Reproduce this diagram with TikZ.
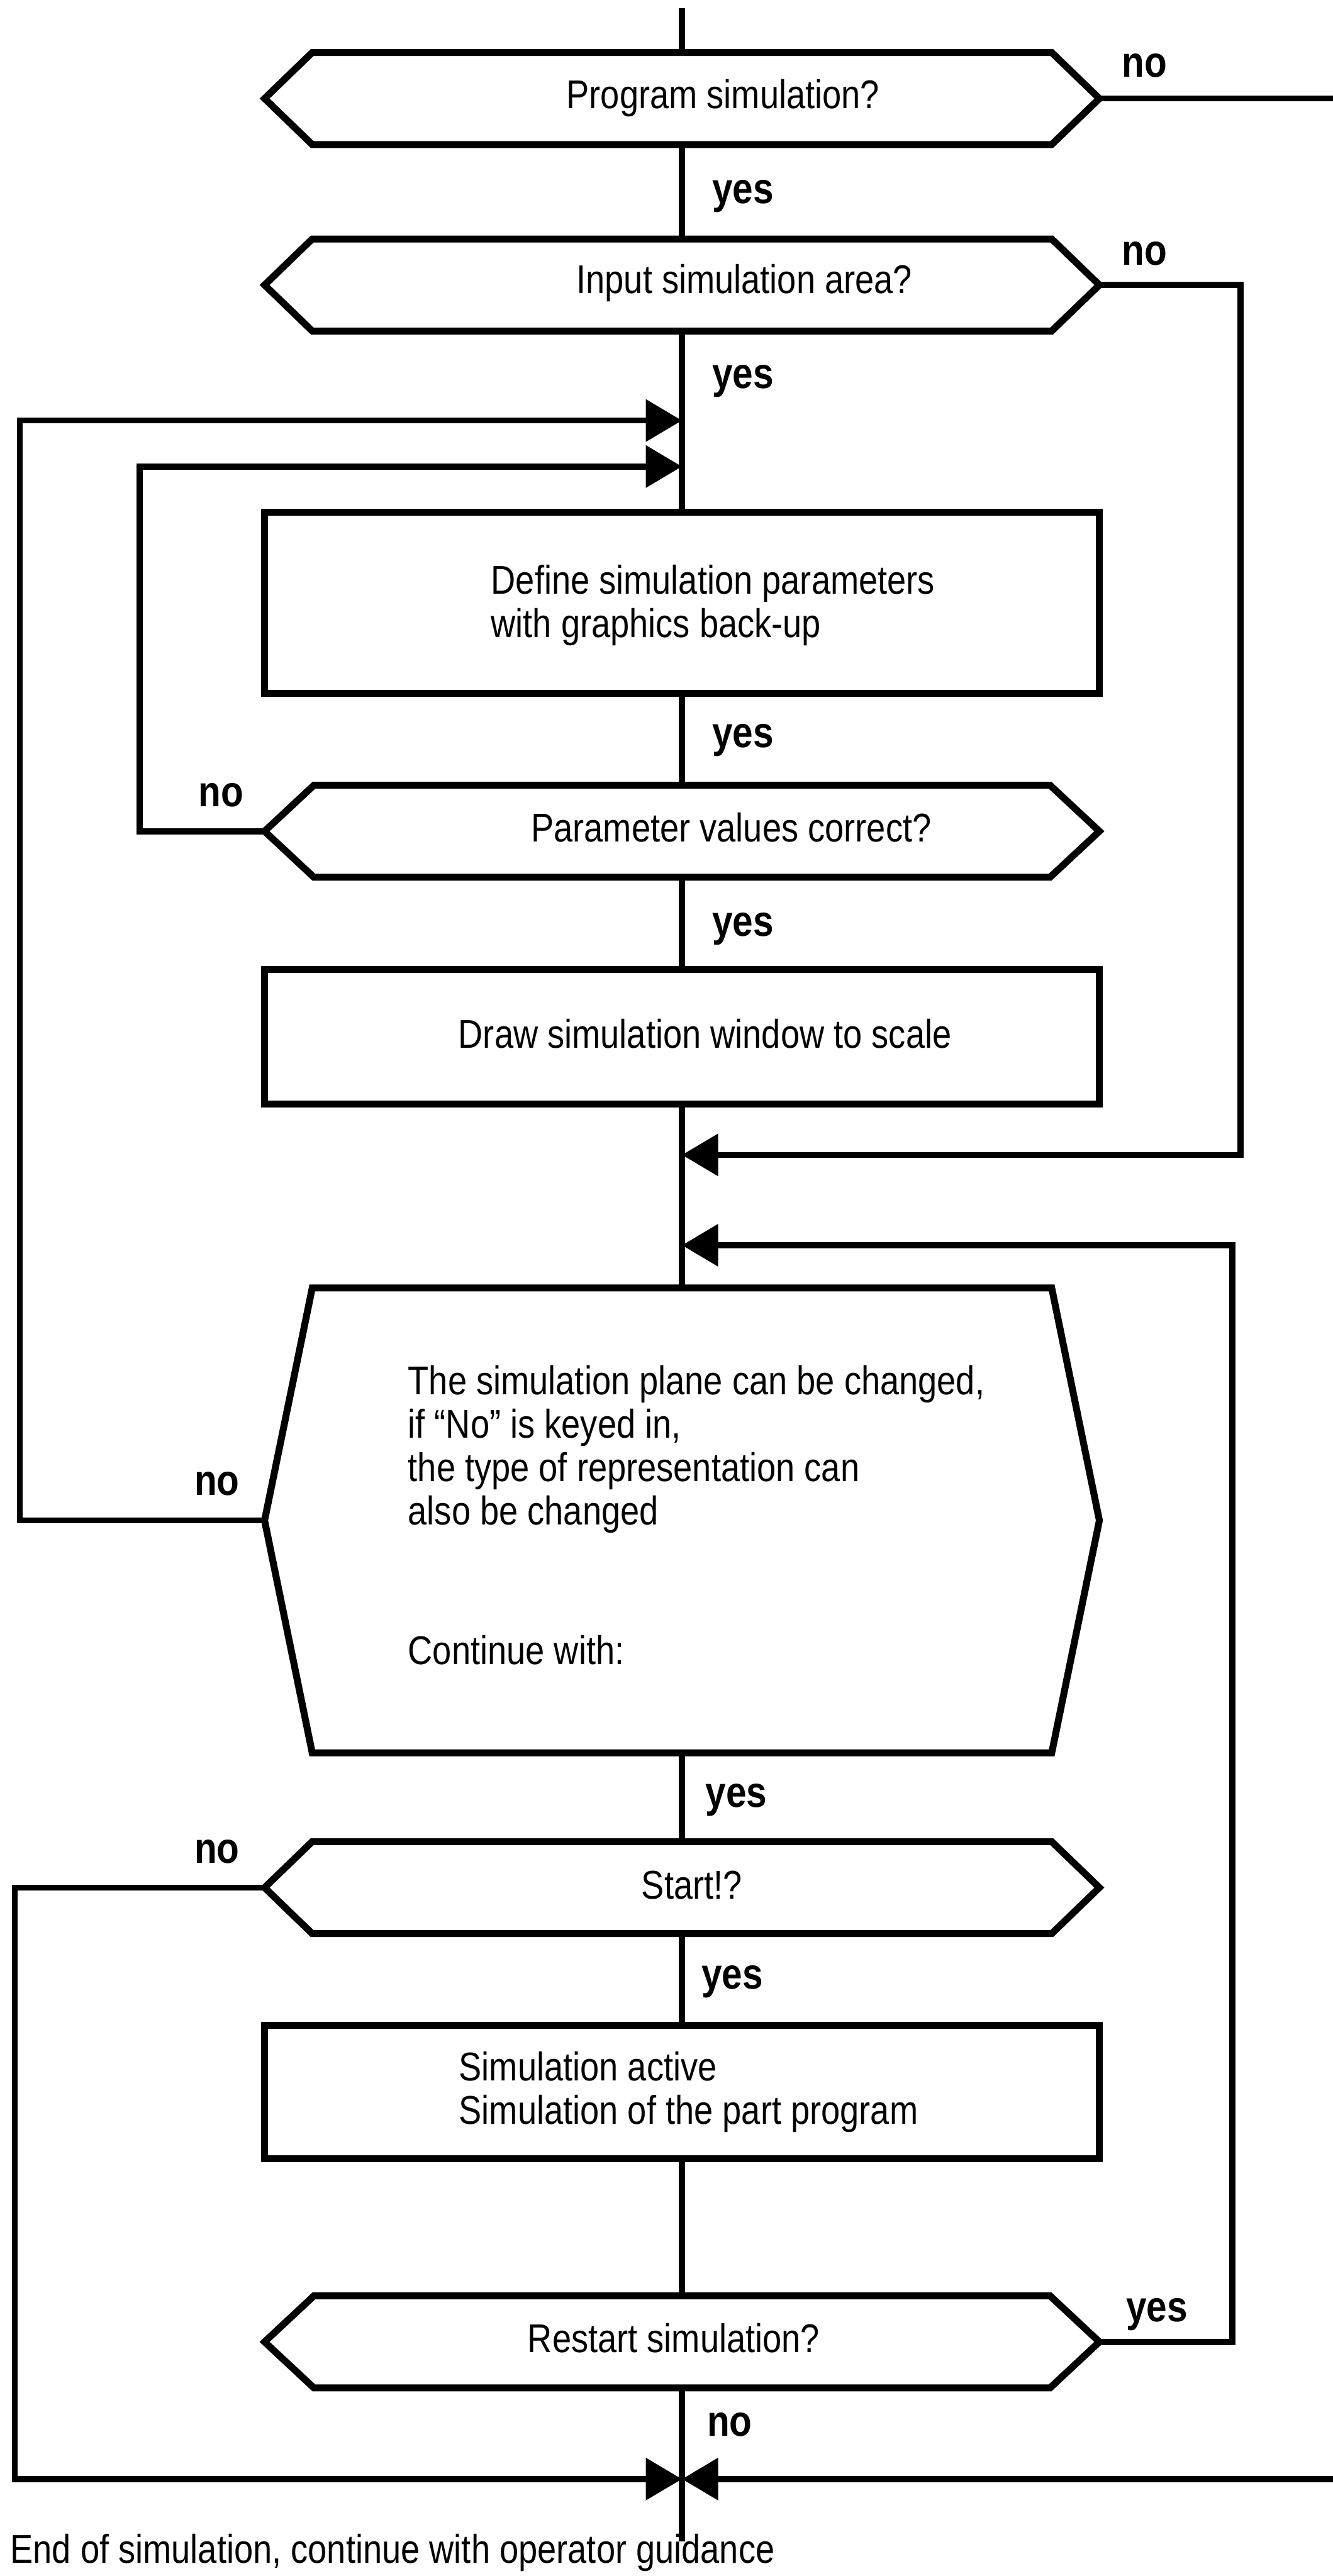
\documentclass[tikz,border=0pt]{standalone}
\usepackage{fontspec}
\setmainfont{Liberation Sans}[FakeStretch=0.85]
\usetikzlibrary{arrows.meta}

\tikzset{
  line/.style={line width=2.1pt},
  frame/.style={line width=2.4pt,line join=miter},
  arr/.style={-{Triangle[length=0.44cm,width=0.5cm]}},
  box/.style={draw,rectangle,line width=2.4pt,minimum width=10.16cm,inner sep=0pt,outer sep=0pt},
  hexbox/.style={rectangle,minimum width=10.16cm,minimum height=1.12cm,inner sep=0pt,outer sep=0pt},
  txt/.style={inner sep=0pt,font=\fontsize{13.9pt}{15pt}\selectfont},
  lbl/.style={inner sep=0pt,anchor=base west,font=\fontsize{15pt}{15pt}\selectfont\bfseries},
}

% outline of a decision box, pointed at east and west
\newcommand\hexframe[2]{%
  \draw[frame] ([xshift=#2]#1.north west) -- ([xshift=-#2]#1.north east) -- (#1.east)
    -- ([xshift=-#2]#1.south east) -- ([xshift=#2]#1.south west) -- (#1.west) -- cycle;}

\begin{document}
\begin{tikzpicture}
\useasboundingbox (0,0) rectangle (16.22,31.36);

% boxes along the main line
\node[hexbox] (progsim) at (8.30,30.16) {};
\node[hexbox] (inarea) at (8.30,27.89) {};
\node[box,minimum height=2.20cm] (define) at (8.30,24.02) {};
\node[hexbox] (paramok) at (8.30,21.24) {};
\node[box,minimum height=1.64cm] (window) at (8.30,18.74) {};
\node[hexbox,minimum height=5.66cm] (plane) at (8.30,12.85) {};
\node[hexbox] (start) at (8.30,8.38) {};
\node[box,minimum height=1.62cm] (active) at (8.30,5.89) {};
\node[hexbox] (restart) at (8.30,2.85) {};

\hexframe{progsim}{0.58cm}
\hexframe{inarea}{0.58cm}
\hexframe{paramok}{0.60cm}
\hexframe{plane}{0.58cm}
\hexframe{start}{0.58cm}
\hexframe{restart}{0.60cm}

% texts
\node[txt,anchor=base] (progsimtxt) at (8.80,30.04) {Program simulation?};
\node[txt,anchor=base] (inareatxt) at (9.06,27.79) {Input simulation area?};
\node[txt,anchor=base west,align=left] (definetxt) at (5.97,23.60)
  {Define simulation parameters\\with graphics back-up};
\node[txt,anchor=base] (paramoktxt) at (8.90,21.11) {Parameter values correct?};
\node[txt,anchor=base] (windowtxt) at (8.58,18.60) {Draw simulation window to scale};
\node[txt,anchor=base west,align=left] (planetxt) at (4.96,12.80)
  {The simulation plane can be changed,\\if “No” is keyed in,\\the type of representation can\\also be changed};
\node[txt,anchor=base west] (continuetxt) at (4.96,11.10) {Continue with:};
\node[txt,anchor=base] (starttxt) at (8.42,8.24) {Start!?};
\node[txt,anchor=base west,align=left] (activetxt) at (5.58,5.50)
  {Simulation active\\Simulation of the part program};
\node[txt,anchor=base] (restarttxt) at (8.20,2.72) {Restart simulation?};
\node[txt,anchor=base west] (endtxt) at (0.12,0.16)
  {End of simulation, continue with operator guidance};

% yes / no
\node[lbl] (no1) at (13.65,30.42) {no};
\node[lbl] (yes1) at (8.66,28.88) {yes};
\node[lbl] (no2) at (13.65,28.13) {no};
\node[lbl] (yes2) at (8.66,26.63) {yes};
\node[lbl] (yes3) at (8.66,22.26) {yes};
\node[lbl] (no3) at (2.41,21.54) {no};
\node[lbl] (yes4) at (8.66,19.96) {yes};
\node[lbl] (no4) at (2.36,13.16) {no};
\node[lbl] (yes5) at (8.58,9.36) {yes};
\node[lbl] (no5) at (2.36,8.68) {no};
\node[lbl] (yes6) at (8.53,7.15) {yes};
\node[lbl] (yes7) at (13.70,3.10) {yes};
\node[lbl] (no6) at (8.60,1.70) {no};

% points on the main line
\coordinate (top) at (8.30,31.26);
\coordinate (loop1) at (8.30,26.24);
\coordinate (loop2) at (8.30,25.68);
\coordinate (entry1) at (8.30,17.30);
\coordinate (entry2) at (8.30,16.20);
\coordinate (join) at (8.30,1.18);
\coordinate (finish) at (8.30,0.42);

% main line
\draw[line] (top) -- (progsim.north);
\draw[line] (progsim.south) -- (inarea.north);
\draw[line] (inarea.south) -- (define.north);
\draw[line] (define.south) -- (paramok.north);
\draw[line] (paramok.south) -- (window.north);
\draw[line] (window.south) -- (plane.north);
\draw[line] (plane.south) -- (start.north);
\draw[line] (start.south) -- (active.north);
\draw[line] (active.south) -- (restart.north);
\draw[line] (restart.south) -- (finish);

% loops
\draw[line,arr] (progsim.east) -| (16.26,1.18) -- (join);
\draw[line,arr] (start.west) -| (0.18,1.18) -- (join);
\draw[line,arr] (inarea.east) -| (15.10,17.30) -- (entry1);
\draw[line,arr] (restart.east) -| (15.00,16.20) -- (entry2);
\draw[line,arr] (plane.west) -| (0.24,26.24) -- (loop1);
\draw[line,arr] (paramok.west) -| (1.70,25.68) -- (loop2);
\end{tikzpicture}
\end{document}
